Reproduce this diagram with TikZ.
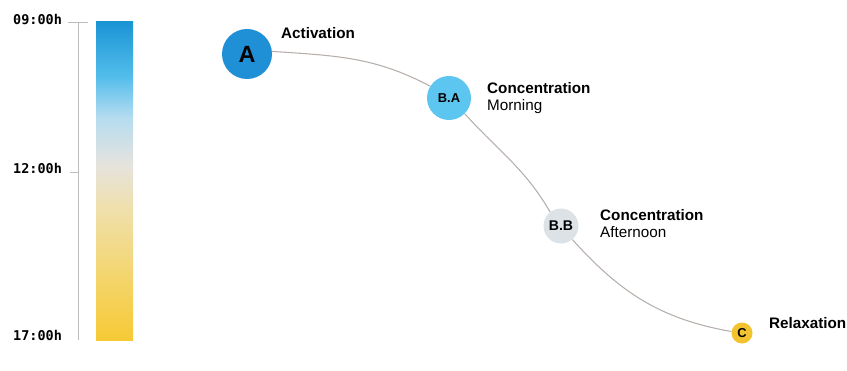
\documentclass[tikz,border=0pt]{standalone}
\usepackage{fontspec}
\setmainfont{Liberation Sans}
\setmonofont{DejaVu Sans Mono}
\usetikzlibrary{positioning}

\definecolor{actblue}{HTML}{1F8FD6}
\definecolor{mornblue}{HTML}{5CC5F0}
\definecolor{aftgrey}{HTML}{DDE2E6}
\definecolor{relyellow}{HTML}{F3C22F}
\definecolor{linkgrey}{HTML}{B5AEAB}
\definecolor{axisgrey}{HTML}{BDBDBD}
\definecolor{baryellow}{HTML}{F6C935}
\definecolor{barsand}{HTML}{F4D467}
\definecolor{barcream}{HTML}{EFE0AE}
\definecolor{bargrey}{HTML}{E6E3DD}
\definecolor{barsky}{HTML}{B5DCF0}
\definecolor{barlight}{HTML}{52BDEB}
\definecolor{barblue}{HTML}{1B94D4}

% colour bar running from morning (top) to evening (bottom)
\pgfdeclareverticalshading{daybar}{100bp}{color(0bp)=(baryellow); color(25bp)=(baryellow); color(34bp)=(barsand); color(46bp)=(barcream); color(52.5bp)=(bargrey); color(60bp)=(barsky); color(66.5bp)=(barlight); color(75bp)=(barblue); color(100bp)=(barblue)}

\begin{document}
\begin{tikzpicture}[x=0.03cm,y=-0.03cm,
        phase/.style={circle,inner sep=0pt,font=\bfseries},
        phaselabel/.style={anchor=west,inner sep=0pt,align=left,font=\fontsize{13}{14.5}\selectfont},
        timelabel/.style={anchor=west,inner sep=0pt,font=\ttfamily\bfseries\fontsize{11.5}{13}\selectfont},
        axis/.style={draw=axisgrey,line width=0.8pt},
        link/.style={draw=linkgrey,line width=0.9pt}]
        \useasboundingbox (0,0) rectangle (847,371);

        % Time axis
        \foreach \t/\y [count=\i] in {09:00h/20,12:00h/168,17:00h/335} {
            \node[timelabel] (time\i) at (13,\y) {\t};
        }
        \coordinate (axtop) at (78,22);
        \coordinate (axbot) at (78,340);
        \draw[axis] (axtop) -- (axbot); % vertical line
        \draw[axis] (68,22) -- (88,22);  % top tick
        \draw[axis] (70,172) -- (axtop |- 0,172); % noon tick

        % Colour bar
        \shade[shading=daybar] (96,22) rectangle (133,340);

        % Phases
        \node[phase, fill=actblue, minimum size=1.5cm, font=\bfseries\fontsize{20}{20}\selectfont] (a) at (247,54) {A};
        \node[phase, fill=mornblue, minimum size=1.32cm, font=\bfseries\fontsize{11}{11}\selectfont] (ba) at (449,98) {B.A};
        \node[phase, fill=aftgrey, minimum size=1.05cm, font=\bfseries\fontsize{12}{12}\selectfont] (bb) at (561,226) {B.B};
        \node[phase, fill=relyellow, minimum size=0.63cm, font=\bfseries\fontsize{11}{11}\selectfont] (c) at (742,333) {C};

        % Labels
        \node[phaselabel] (alabel) at (281,33) {\bfseries Activation};
        \node[phaselabel] (balabel) at (487,98) {{\bfseries Concentration}\\Morning};
        \node[phaselabel] (bblabel) at (600,224) {{\bfseries Concentration}\\Afternoon};
        \node[phaselabel] (clabel) at (769,323) {\bfseries Relaxation};

        % Path through the day
        \draw[link] (a.6) to[out=-4,in=152] (ba.148);
        \draw[link] (ba.-45) to[out=-48,in=120] (bb.128);
        \draw[link] (bb.-50) to[out=-48,in=170] (c.172);
    \end{tikzpicture}
\end{document}
